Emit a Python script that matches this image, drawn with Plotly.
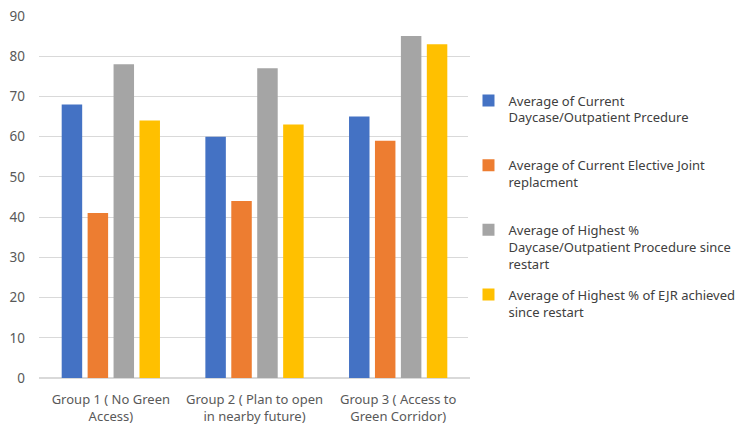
import plotly.graph_objects as go

categories = ["Group 1 ( No Green<br>Access)", "Group 2 ( Plan to open<br>in nearby future)", "Group 3 ( Access to<br>Green Corridor)"]
series_names = [
    "Average of Current<br>Daycase/Outpatient Prcedure<br> ",
    "Average of Current Elective Joint<br>replacment<br> ",
    "Average of Highest %<br>Daycase/Outpatient Procedure since<br>restart",
    "Average of Highest % of EJR achieved<br>since restart<br> ",
]
current_daycase = [68, 60, 65]
current_ejr = [41, 44, 59]
highest_daycase = [78, 77, 85]
highest_ejr = [64, 63, 83]
colors = ["#4472C4", "#ED7D31", "#A5A5A5", "#FFC000"]

values = [current_daycase, current_ejr, highest_daycase, highest_ejr]

fig = go.Figure()
for i, (name, vals, col) in enumerate(zip(series_names, values, colors)):
    fig.add_trace(go.Bar(x=categories, y=vals, name=name, marker_color=col,
                         marker_line_width=0, legendgroup=f"g{i}"))

font = "Noto Sans, Open Sans, sans-serif"
fig.update_layout(
    width=750, height=434,
    margin=dict(l=38.5, r=280, t=15.5, b=56, autoexpand=False),
    paper_bgcolor="white", plot_bgcolor="white",
    barmode="group", bargap=0.278, bargroupgap=0.21,
    font=dict(family=font, size=13, color="#595959"),
    showlegend=True,
    legend=dict(x=0.9965, xanchor="left", y=0.808, yanchor="top",
                traceorder="grouped", tracegroupgap=11, valign="top",
                font=dict(size=13, color="#404040"),
                itemwidth=30),
    yaxis=dict(range=[0, 90], dtick=10, showgrid=True, gridcolor="#D9D9D9",
               gridwidth=1, zeroline=True, zerolinecolor="#D9D9D9",
               ticks="", tickfont=dict(size=13.5), ticklabelstandoff=13,
               automargin=False),
    xaxis=dict(showgrid=False, ticks="", tickfont=dict(size=13), showline=False,
               ticklabelstandoff=12, automargin=False),
)

fig.write_html("out.html", post_script="document.body.style.margin='0';",
               config={"displayModeBar": False})
